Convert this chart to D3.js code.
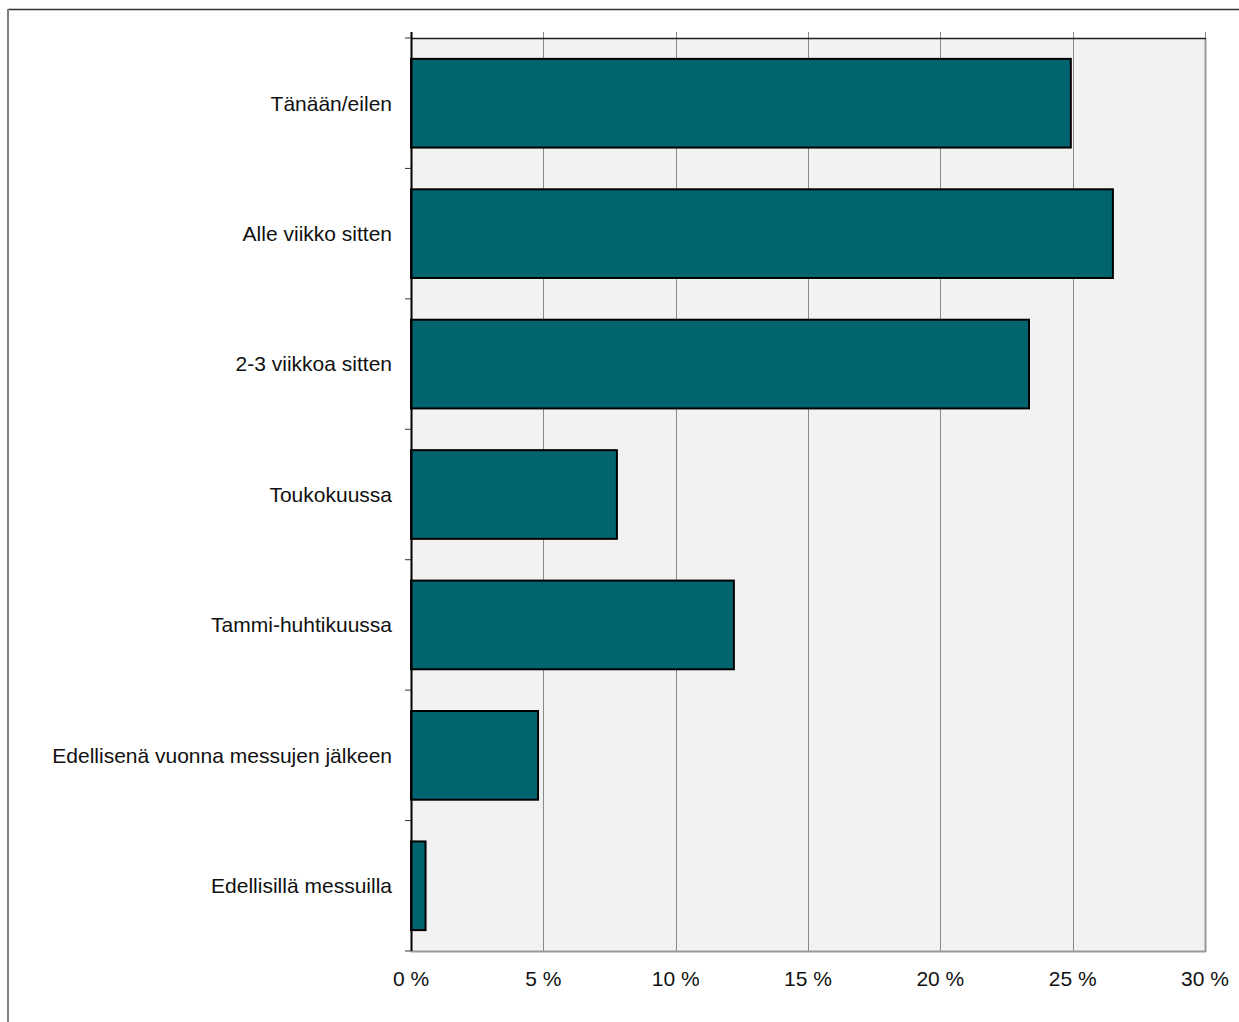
<!DOCTYPE html>
<html><head><meta charset="utf-8">
<script src="https://cdn.jsdelivr.net/npm/d3@7"></script>
<style>body{margin:0;background:#fff;} svg{display:block;}</style>
</head><body>
<svg id="c" width="1239" height="1022"></svg>
<script>
const categories = ["Tänään/eilen","Alle viikko sitten","2-3 viikkoa sitten","Toukokuussa","Tammi-huhtikuussa","Edellisenä vuonna messujen jälkeen","Edellisillä messuilla"];
const values = [24.93, 26.52, 23.35, 7.78, 12.2, 4.8, 0.55];
const tickValues = [0,5,10,15,20,25,30];
const tickLabels = ["0 %","5 %","10 %","15 %","20 %","25 %","30 %"];

const svg = d3.select("#c");
const L=411, R=1205, T=38, B=951;
const x = d3.scaleLinear().domain([0,30]).range([L,R]);
const y = d3.scaleBand().domain(categories).range([T,B]).paddingInner(0.32).paddingOuter(0.16);
const FONT = "Liberation Sans, Arial, sans-serif";

// outer frame
svg.append("line").attr("x1",8).attr("x2",1239).attr("y1",9.5).attr("y2",9.5).attr("stroke","#333").attr("stroke-width",1.5);
svg.append("line").attr("x1",8).attr("x2",8).attr("y1",9).attr("y2",1022).attr("stroke","#808080").attr("stroke-width",2);

// plot background
svg.append("rect").attr("x",L).attr("y",T).attr("width",R-L).attr("height",B-T).attr("fill","#f2f2f2");

// grid
svg.selectAll(".grid").data(tickValues.slice(1)).enter().append("line")
  .attr("x1",d=>Math.round(x(d))+0.5).attr("x2",d=>Math.round(x(d))+0.5)
  .attr("y1",T-6).attr("y2",B).attr("stroke","#8a8a8a").attr("stroke-width",1);

// right and bottom border
svg.append("line").attr("x1",R+0.5).attr("x2",R+0.5).attr("y1",T).attr("y2",B+1).attr("stroke","#999").attr("stroke-width",2);
svg.append("line").attr("x1",L).attr("x2",R+1).attr("y1",B+0.5).attr("y2",B+0.5).attr("stroke","#999").attr("stroke-width",2);
// top axis line
svg.append("line").attr("x1",L).attr("x2",R+1).attr("y1",T+0.5).attr("y2",T+0.5).attr("stroke","#222").attr("stroke-width",1.5);

// bars
svg.selectAll(".bar").data(categories).enter().append("rect")
  .attr("x",x(0)).attr("y",d=>y(d))
  .attr("width",(d,i)=>x(values[i])-x(0)).attr("height",y.bandwidth())
  .attr("fill","#02646f").attr("stroke","#000").attr("stroke-width",2);

// left axis line and ticks
svg.append("line").attr("x1",L+0.5).attr("x2",L+0.5).attr("y1",T-6).attr("y2",B).attr("stroke","#000").attr("stroke-width",2);
const step = (B-T)/categories.length;
svg.selectAll(".ytick").data(d3.range(categories.length+1)).enter().append("line")
  .attr("x1",L-6).attr("x2",L).attr("y1",i=>T+i*step).attr("y2",i=>T+i*step)
  .attr("stroke","#333").attr("stroke-width",1);

// category labels
svg.selectAll(".lab").data(categories).enter().append("text")
  .attr("x",392).attr("y",d=>y(d)+y.bandwidth()/2).attr("dy","0.35em")
  .attr("text-anchor","end").attr("font-family",FONT)
  .attr("font-size",21).attr("fill","#111").text(d=>d);

// x tick labels
svg.selectAll(".xl").data(tickValues).enter().append("text")
  .attr("x",d=>x(d)).attr("y",986).attr("text-anchor","middle")
  .attr("font-family",FONT).attr("font-size",21).attr("fill","#111")
  .text((d,i)=>tickLabels[i]);
</script>
</body></html>
